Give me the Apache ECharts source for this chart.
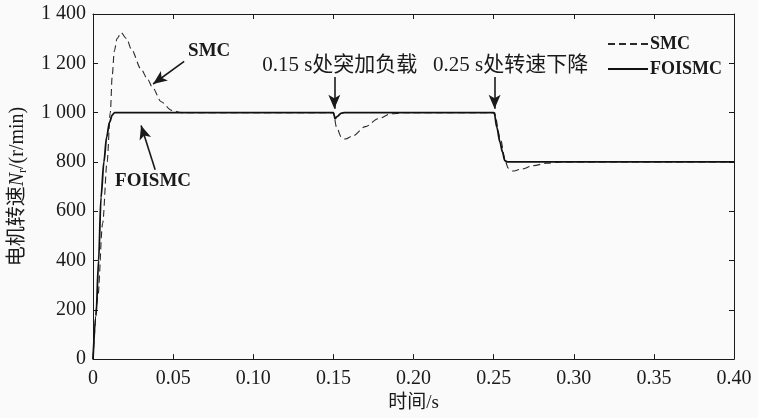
<!DOCTYPE html>
<html>
<head>
<meta charset="utf-8">
<script src="https://cdn.jsdelivr.net/npm/echarts@6/dist/echarts.min.js"></script>
<style>
  html, body { margin: 0; padding: 0; background: #fafafa; }
  #chart { width: 758px; height: 418px; }
</style>
</head>
<body>
<div id="chart"></div>
<script>
// Motor speed response: SMC vs FOISMC (time in s, speed in r/min)
const timeSMC = [0, 0.003, 0.006, 0.0088, 0.0108, 0.012, 0.0133, 0.015, 0.0175, 0.021, 0.024, 0.030, 0.034, 0.0373, 0.0425, 0.049, 0.055,
  0.15, 0.152, 0.155, 0.1575, 0.162, 0.17, 0.178, 0.186, 0.195,
  0.2505, 0.254, 0.2575, 0.259, 0.262, 0.267, 0.275, 0.283, 0.292, 0.40];
const speedSMC = [0, 250, 550, 800, 1000, 1150, 1250, 1300, 1324, 1300, 1256, 1176, 1136, 1100, 1044, 1009, 1000,
  1000, 940, 900, 893, 905, 943, 975, 995, 1000,
  1000, 900, 800, 775, 763, 770, 785, 795, 800, 800];

const timeFOISMC = [0, 0.0019, 0.0035, 0.005, 0.0068, 0.0085, 0.0103, 0.012, 0.0135,
  0.15, 0.1505, 0.151, 0.1525, 0.155, 0.157,
  0.25, 0.2505, 0.252, 0.254, 0.2555, 0.257, 0.2585, 0.40];
const speedFOISMC = [0, 176, 400, 656, 800, 900, 960, 990, 1000,
  1000, 990, 975, 985, 998, 1000,
  1000, 995, 940, 880, 840, 805, 800, 800];

const seriesNames = ['SMC', 'FOISMC'];
const xTicks = { min: 0, max: 0.40, step: 0.05 };
const yTicks = { min: 0, max: 1400, step: 200 };

// Callout texts and arrows, given in data coordinates [time, speed]
const calloutTexts = [
  { text: 'SMC', at: [0.0725, 1248], bold: true, size: 19 },
  { text: 'FOISMC', at: [0.0375, 724], bold: true, size: 19 },
  { text: '0.15 s处突加负载', at: [0.154, 1190], bold: false, size: 21 },
  { text: '0.25 s处转速下降', at: [0.2606, 1190], bold: false, size: 21 }
];
const calloutArrows = [
  { from: [0.0569, 1208], to: [0.0375, 1116] },
  { from: [0.0388, 768], to: [0.030, 948] },
  { from: [0.1506, 1144], to: [0.1506, 1016] },
  { from: [0.2506, 1144], to: [0.2506, 1016] }
];

const zip = (xs, ys) => xs.map((x, i) => [x, ys[i]]);
const serif = "'Liberation Serif', 'Times New Roman', 'Noto Sans CJK SC', serif";
const ink = '#1a1a1a';

const chart = echarts.init(document.getElementById('chart'), null, { renderer: 'canvas' });

const baseX = {
  type: 'value', min: xTicks.min, max: xTicks.max, interval: xTicks.step,
  axisLine: { show: true, onZero: false, lineStyle: { color: ink, width: 1 } },
  axisTick: { show: true, inside: true, length: 5, lineStyle: { color: ink } },
  splitLine: { show: false }
};
const baseY = {
  type: 'value', min: yTicks.min, max: yTicks.max, interval: yTicks.step,
  axisLine: { show: true, onZero: false, lineStyle: { color: ink, width: 1 } },
  axisTick: { show: true, inside: true, length: 5, lineStyle: { color: ink } },
  splitLine: { show: false }
};

chart.setOption({
  backgroundColor: '#fafafa',
  animation: false,
  grid: { left: 92, right: 24, top: 14, bottom: 55 },
  legend: {
    data: seriesNames,
    orient: 'vertical',
    left: 602, top: 30,
    itemWidth: 40, itemHeight: 18, itemGap: 7,
    itemStyle: { opacity: 0 },
    textStyle: { fontFamily: serif, fontSize: 18, fontWeight: 'bold', color: ink, padding: [0, 0, 0, -3] }
  },
  xAxis: [
    Object.assign({}, baseX, {
      position: 'bottom',
      name: '时间/s', nameLocation: 'middle', nameGap: 33,
      nameTextStyle: { fontFamily: serif, fontSize: 19, color: ink },
      axisLabel: {
        margin: 10, fontFamily: serif, fontSize: 20, color: ink,
        formatter: v => (v === 0 ? '0' : v.toFixed(2))
      }
    }),
    Object.assign({}, baseX, { position: 'top', axisLabel: { show: false } })
  ],
  yAxis: [
    Object.assign({}, baseY, {
      position: 'left',
      name: '{a|电机转速}{i|N}{s|r}{a|/(r/min)}',
      nameLocation: 'middle', nameRotate: 90, nameGap: 64,
      nameTextStyle: {
        fontFamily: serif, fontSize: 20, color: ink,
        rich: {
          a: { fontFamily: serif, fontSize: 20, color: ink },
          i: { fontFamily: serif, fontSize: 20, fontStyle: 'italic', color: ink },
          s: { fontFamily: serif, fontSize: 12, color: ink, verticalAlign: 'bottom', padding: [10, 0, 0, 0] }
        }
      },
      axisLabel: {
        margin: 7, fontFamily: serif, fontSize: 20, color: ink,
        formatter: v => (v >= 1000 ? Math.floor(v / 1000) + ' ' + String(v % 1000).padStart(3, '0') : String(v))
      }
    }),
    Object.assign({}, baseY, { position: 'right', axisLabel: { show: false } })
  ],
  series: [
    {
      name: 'SMC', type: 'line', data: zip(timeSMC, speedSMC),
      symbol: 'none', smooth: 0.3, smoothMonotone: 'x',
      lineStyle: { color: '#2a2a2a', width: 1.1, type: [7, 4] },
      itemStyle: { color: '#2a2a2a' },
      z: 2,
      markLine: {
        silent: true, animation: false,
        symbol: ['none', 'arrow'], symbolSize: [9, 14],
        label: { show: false },
        lineStyle: { color: ink, width: 1.6, type: 'solid' },
        data: calloutArrows.map(a => [{ coord: a.from }, { coord: a.to }])
      },
      markPoint: {
        silent: true, animation: false,
        symbol: 'circle', symbolSize: 0,
        data: calloutTexts.map(t => ({
          coord: t.at, value: t.text,
          label: {
            show: true, position: 'inside', formatter: t.text,
            fontFamily: serif, fontSize: t.size, fontWeight: t.bold ? 'bold' : 'normal', color: ink
          }
        }))
      }
    },
    {
      name: 'FOISMC', type: 'line', data: zip(timeFOISMC, speedFOISMC),
      symbol: 'none', smooth: 0.3, smoothMonotone: 'x',
      lineStyle: { color: '#111', width: 1.8, type: 'solid' },
      itemStyle: { color: '#111' },
      z: 3
    }
  ]
});
</script>
</body>
</html>
